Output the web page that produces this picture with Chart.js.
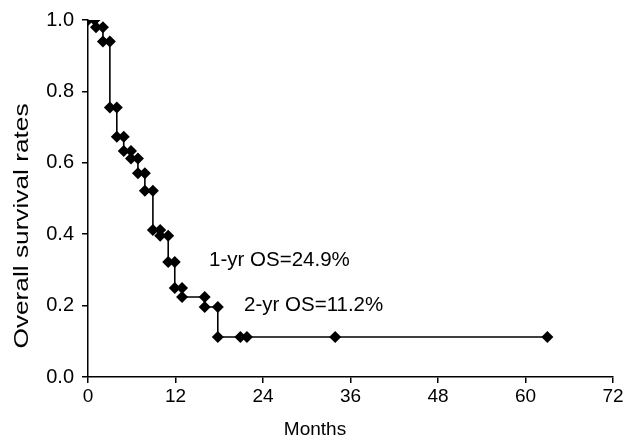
<!DOCTYPE html>
<html>
<head>
<meta charset="utf-8">
<script src="https://cdn.jsdelivr.net/npm/chart.js@4/dist/chart.umd.min.js"></script>
<style>
  html, body { margin: 0; padding: 0; background: #fff; }
  #wrap { width: 626px; height: 441px; }
</style>
</head>
<body>
<div id="wrap"><canvas id="c" width="626" height="441"></canvas></div>
<script>
// Kaplan-Meier markers (months, survival proportion)
const months = [0, 0.9, 1.1, 2.05, 2.05, 3.0, 3.0, 3.95, 3.95, 4.9, 4.9, 5.9, 5.9, 6.85, 6.85, 7.8, 7.8, 8.9, 8.9, 9.9, 9.9, 11.0, 11.0, 11.9, 11.9, 12.9, 12.9, 16.0, 16.0, 17.8, 17.8, 20.9, 21.8, 33.9, 63.0];
const survival = [1.0, 1.0, 0.98, 0.98, 0.94, 0.94, 0.755, 0.755, 0.673, 0.673, 0.633, 0.633, 0.612, 0.612, 0.571, 0.571, 0.522, 0.522, 0.412, 0.412, 0.396, 0.396, 0.322, 0.322, 0.249, 0.249, 0.224, 0.224, 0.196, 0.196, 0.112, 0.112, 0.112, 0.112, 0.112];
const xTicks = [0, 12, 24, 36, 48, 60, 72];
const yTicks = [0.0, 0.2, 0.4, 0.6, 0.8, 1.0];
const annotTexts = ["1-yr OS=24.9%", "2-yr OS=11.2%"];
const annotX = [16.6, 21.4];
const annotY = [0.328, 0.202];
const xTitle = "Months";
const yTitle = "Overall survival rates";

const FONT = "'Liberation Sans', Arial, sans-serif";

const textPlugin = {
  id: 'texts',
  afterDraw(chart) {
    const ctx = chart.ctx;
    const xs = chart.scales.x, ys = chart.scales.y;
    ctx.save();
    ctx.fillStyle = '#000';
    ctx.font = "20.5px " + FONT;
    ctx.textAlign = 'left';
    ctx.textBaseline = 'middle';
    annotTexts.forEach((t, i) => {
      ctx.fillText(t, xs.getPixelForValue(annotX[i]), ys.getPixelForValue(annotY[i]));
    });
    // x-axis title
    ctx.font = "19px " + FONT;
    ctx.textAlign = 'center';
    ctx.fillText(xTitle, 315, 430);
    // y-axis title
    ctx.translate(22, 226);
    ctx.rotate(-Math.PI / 2);
    ctx.scale(1.25, 1);
    ctx.font = "21px " + FONT;
    ctx.fillText(yTitle, 0, 0);
    ctx.restore();
  }
};

new Chart(document.getElementById('c'), {
  type: 'scatter',
  data: {
    datasets: [{
      data: months.map((m, i) => ({ x: m, y: survival[i] })),
      showLine: true,
      stepped: 'after',
      borderColor: '#000',
      borderWidth: 1.6,
      backgroundColor: '#000',
      pointStyle: 'rectRot',
      pointRadius: 6,
      pointBorderWidth: 0,
      pointBackgroundColor: '#000'
    }]
  },
  options: {
    responsive: false,
    devicePixelRatio: 1,
    animation: false,
    layout: { padding: { left: 0, right: 13, top: 20, bottom: 0 } },
    plugins: { legend: { display: false }, tooltip: { enabled: false } },
    scales: {
      x: {
        type: 'linear',
        min: 0, max: 72,
        afterBuildTicks: (s) => { s.ticks = xTicks.map(v => ({ value: v })); },
        afterFit: (s) => { s.height = 64; },
        border: { display: true, color: '#000', width: 1.5 },
        grid: { display: true, drawOnChartArea: false, drawTicks: true, tickLength: 6, color: '#000', lineWidth: 1.5 },
        ticks: { color: '#000', font: { family: FONT, size: 19 }, padding: 2, maxRotation: 0 },
        title: { display: false }
      },
      y: {
        type: 'linear',
        min: 0, max: 1,
        afterBuildTicks: (s) => { s.ticks = yTicks.map(v => ({ value: v })); },
        afterFit: (s) => { s.width = 88; },
        border: { display: true, color: '#000', width: 1.5 },
        grid: { display: true, drawOnChartArea: false, drawTicks: true, tickLength: 6, color: '#000', lineWidth: 1.5 },
        ticks: { color: '#000', font: { family: FONT, size: 20 }, padding: 8, callback: (v) => Number(v).toFixed(1) },
        title: { display: false }
      }
    }
  },
  plugins: [textPlugin]
});
</script>
</body>
</html>
